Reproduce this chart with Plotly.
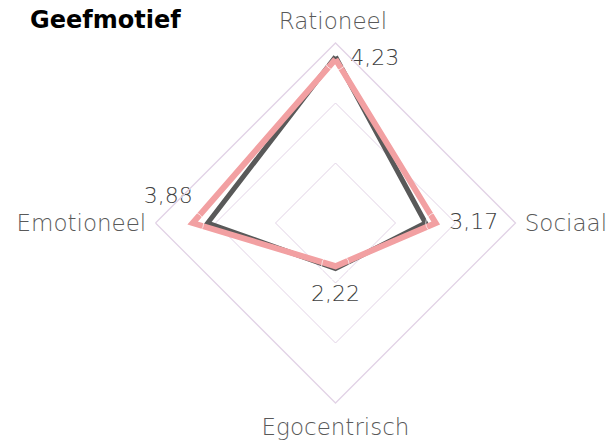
import plotly.graph_objects as go

categories = ["Rationeel", "Sociaal", "Egocentrisch", "Emotioneel"]
series_gray = [4.27, 3.00, 2.26, 3.63]
series_pink = [4.23, 3.17, 2.22, 3.88]
value_labels = ["4,23", "3,17", "2,22", "3,88"]

FONT = "DejaVu Sans"
W, H = 616, 441
cx, cy, R = 335.5, 223, 180

# label styling (offsets via invisible marker sizes and padding)
label_positions = ["middle right", "middle right", "bottom center", "top center"]
label_marker_sizes = [22, 20, 28, 22]
label_text = [value_labels[0], value_labels[1], value_labels[2],
              value_labels[3] + "\u00a0" * 7]

fig = go.Figure()

def closed(v):
    return list(v) + [v[0]]

fig.add_trace(go.Scatterpolar(
    r=closed(series_gray), theta=closed(categories), mode="lines",
    line=dict(color="#595959", width=5), showlegend=False, hoverinfo="skip"))
fig.add_trace(go.Scatterpolar(
    r=closed(series_pink), theta=closed(categories), mode="lines",
    line=dict(color="#F2A0A2", width=6), showlegend=False, hoverinfo="skip"))
fig.add_trace(go.Scatterpolar(
    r=series_pink, theta=categories, mode="markers+text", text=label_text,
    textposition=label_positions,
    marker=dict(size=label_marker_sizes, color="rgba(0,0,0,0)"),
    textfont=dict(family=FONT, size=22, color="#404040", weight=200),
    showlegend=False, hoverinfo="skip"))

tick_text = ["Rationeel<sub>\u00a0</sub>", "Sociaal", "Egocentrisch", "Emotioneel"]

fig.update_layout(
    width=W, height=H,
    margin=dict(l=0, r=0, t=0, b=0),
    paper_bgcolor="white", plot_bgcolor="white",
    polar=dict(
        domain=dict(x=[(cx - R) / W, (cx + R) / W], y=[(H - cy - R) / H, (H - cy + R) / H]),
        gridshape="linear",
        bgcolor="white",
        radialaxis=dict(range=[1.5, 4.5], tick0=2.5, dtick=1, showticklabels=False,
                        showline=False, ticks="", gridcolor="#E2D3E6", gridwidth=1.3),
        angularaxis=dict(rotation=90, direction="clockwise", showgrid=False,
                         tickvals=categories, ticktext=tick_text,
                         showline=True, linecolor="#E2D3E6", linewidth=1.3,
                         ticks="outside", ticklen=4, tickcolor="rgba(0,0,0,0)",
                         tickfont=dict(family=FONT, size=23, color="#595959", weight=200)),
    ),
    annotations=[dict(text="<b>Geefmotief</b>", x=28 / W, y=1 - 20 / H, xref="paper", yref="paper",
                      xanchor="left", yanchor="middle", showarrow=False,
                      font=dict(family=FONT, size=24, color="#000000"))],
)
fig.write_html("out.html")
